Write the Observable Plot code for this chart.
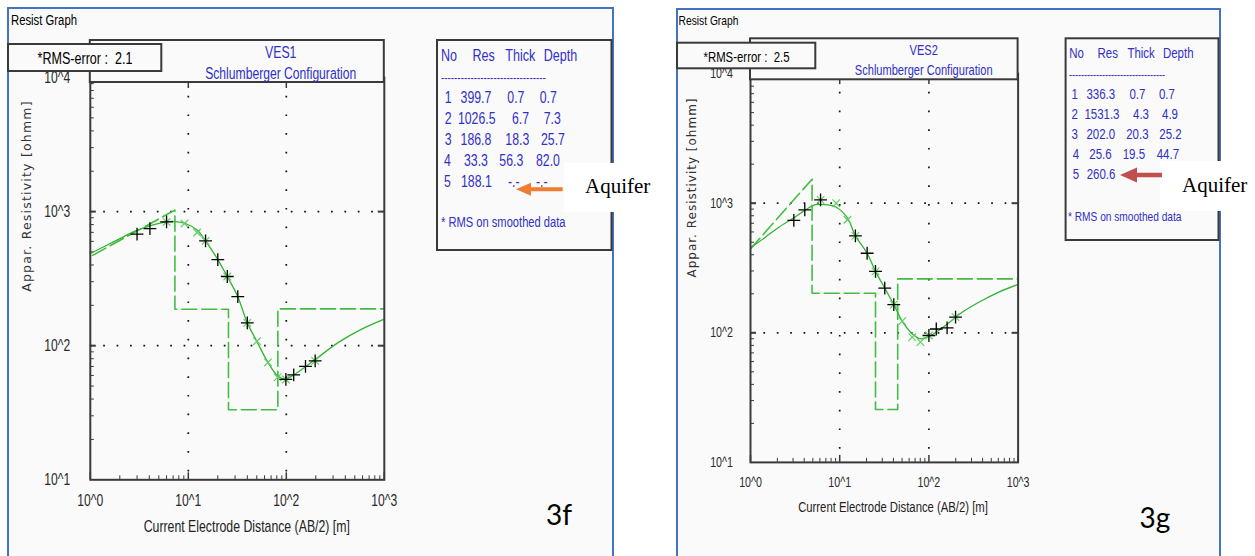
<!DOCTYPE html>
<html><head><meta charset="utf-8">
<script src="https://cdn.jsdelivr.net/npm/d3@7"></script>
<script src="https://cdn.jsdelivr.net/npm/@observablehq/plot@0.6"></script>
<style>
html,body{margin:0;padding:0;background:#fff;}
#root{position:relative;width:1255px;height:556px;overflow:hidden;background:#fff;}
#root > svg{position:absolute;top:0;}
</style></head>
<body><div id="root"></div>
<script>
// ---------------- data ----------------
const chartTitles = ["VES1", "VES2"];
const configLabel = "Schlumberger Configuration";
const windowTitle = "Resist Graph";
const figLabels = ["3f", "3g"];
const rmsValues = ["2.1", "2.5"];
const tableHeader = ["No", "Res", "Thick", "Depth"];
const tableNote = "* RMS on smoothed data";
const yAxisTitle = "Appar. Resistivity [ohmm]";
const xAxisTitle = "Current Electrode Distance (AB/2) [m]";
const aquiferLabel = "Aquifer";
const xTicks = [1, 10, 100, 1000];
const xTickLabels = ["10^0", "10^1", "10^2", "10^3"];
const yTicks = [10, 100, 1000, 10000];
const yTickLabels = ["10^1", "10^2", "10^3", "10^4"];
const gridX = [10, 100];
const gridY = [100, 1000];

// VES1
const ves1Res = [399.7, 1026.5, 186.8, 33.3, 188.1];
const ves1Thick = [0.7, 6.7, 18.3, 56.3];
const ves1Depth = [0.7, 7.3, 25.7, 82.0];
const ves1ObsAB = [3.0, 4.06, 6.0, 15, 20, 25, 32, 40, 99, 119, 157, 197];
const ves1ObsRho = [679, 747, 838, 605, 439, 328, 232, 148, 56, 60.5, 70, 77];
const ves1SmoothAB = [6.0, 9.15, 12.3, 15, 25, 40, 50.2, 65, 81.4, 99, 197];
const ves1SmoothRho = [838, 815, 698, 605, 328, 148, 108, 75, 58, 56, 77];
const ves1CurveAB = [1.0, 1.44, 1.96, 2.9, 4.29, 6.1, 7.4, 9.36, 12.3, 15, 20, 25, 32, 40, 50, 65, 81.4, 97.5, 123, 197, 340, 588, 1000];
const ves1CurveRho = [487, 556, 623, 718, 793, 843, 843, 815, 728, 605, 439, 328, 232, 148, 108, 75, 59.8, 56.5, 61.5, 78.8, 105.8, 133, 158];

// VES2
const ves2Res = [336.3, 1531.3, 202.0, 25.6, 260.6];
const ves2Thick = [0.7, 4.3, 20.3, 19.5];
const ves2Depth = [0.7, 4.9, 25.2, 44.7];
const ves2ObsAB = [3.06, 4.06, 6.1, 15, 20.3, 25.2, 32, 40.4, 100, 121, 160, 199];
const ves2ObsRho = [736, 889, 1062, 560, 411, 298, 221, 165, 95.3, 107, 109, 132];
const ves2SmoothAB = [6.1, 9.14, 12.2, 15, 25.2, 40.4, 50.2, 65, 80.5, 100, 199];
const ves2SmoothRho = [1062, 1000, 745, 560, 298, 165, 123, 92.5, 84.7, 95.3, 132];
const ves2CurveAB = [1.0, 1.47, 2.08, 3.06, 4.06, 5.35, 6.93, 9.14, 12.2, 15, 20.3, 25.2, 32, 40.4, 50.2, 65, 80.5, 100, 153, 236, 363, 608, 1000];
const ves2CurveRho = [453, 547, 653, 771, 880, 973, 975, 931, 771, 560, 411, 298, 221, 165, 123, 98.3, 89.9, 93.6, 114, 144, 172, 206, 236];

// ---------------- styles / layout ----------------
const SANS = '"Liberation Sans",Arial,sans-serif';
const BOOST = 1.09;            // taller glyphs ...
const CONDENSE = 0.82 / BOOST; // ... at the same width (narrow typeface look)
const WIDE = '"DejaVu Sans",sans-serif';
const SERIF = '"Liberation Serif","Times New Roman",serif';
const FIGFONT = 'Lato,"Open Sans",sans-serif';
const BLUE_TXT = "#3030c8";
const PANEL_BG = "#fafafa";
const BORDER_BLUE = "#4472C4";
const DARK = "#3a3a3a";
const CURVE_GREEN = "#33b533";
const DASH_GREEN = "#44bb44";
const X_GREEN = "#66cc66";
const H = 556;

const layouts = [
  {
    panel: {x1: 8, y1: 8, x2: 613},
    svgLeft: 0, svgW: 620, fx0: 89.8, fx1: 383.8, fy0: 77.0, fy1: 479.3,
    tickFont: 14.8, xPad: 15.0, yPad: 20,
    title: {x: 11, y: 20, size: 13.8},
    rmsBox: [8, 44, 161.3, 71], rms: {x: 85, y: 58.5, size: 15.3},
    header: [89.8, 40, 383.8, 82], ves: {x: 280.7, y: 52, size: 15}, cfg: {y: 73, size: 14.8},
    table: [437, 40, 611.5, 250],
    thead: {y: 55, size: 15.3, xs: [440.9, 472.5, 505.3, 543.7]},
    dash: {x: 441, y: 77, size: 12, n: 32},
    rows: {ys: [97.3, 118.3, 139.3, 160.5, 181.5], size: 15,
      xs: [[444.8, 460.6, 507.3, 539.7], [444.8, 457.9, 512, 543.7], [444.8, 460.6, 505.3, 541], [444, 464, 499.3, 536], [444, 461, 508, 536]]},
    note: {x: 441, y: 222, size: 13.6},
    ylab: {x: 26.5, y: 196, size: 12.5, ls: 1.2},
    xlab: {x: 246.8, y: 526.5, size: 15},
    fig: {x: 559, y: 514, size: 28},
    aqBox: [564, 163, 662, 212], aqText: {x: 585, y: 193, size: 21},
    arrow: {x1: 562.7, x2: 516, y: 189.3, color: "#ED7D31", shaft: 4, headL: 15, headW: 13}
  },
  {
    panel: {x1: 677, y1: 9, x2: 1220},
    svgLeft: 640, svgW: 615, fx0: 750, fx1: 1017.6, fy0: 73.1, fy1: 461.9,
    tickFont: 13, xPad: 14.6, yPad: 17.6,
    title: {x: 678.6, y: 20, size: 12.5},
    rmsBox: [677, 42.7, 815.3, 68.3], rms: {x: 746.5, y: 57, size: 13.9},
    header: [750, 38.3, 1017.6, 79.3], ves: {x: 923.7, y: 50, size: 13.5}, cfg: {y: 70, size: 13.5},
    table: [1065.6, 38.3, 1218.5, 240],
    thead: {y: 53.3, size: 14, xs: [1069.2, 1097.5, 1127.4, 1162.9]},
    dash: {x: 1069, y: 74.3, size: 11, n: 32},
    rows: {ys: [94.3, 114.3, 134.3, 154.3, 174.3], size: 14,
      xs: [[1071.6, 1086.4, 1129.4, 1158.9], [1071.6, 1084.4, 1133, 1162], [1071.6, 1086.4, 1126.2, 1159.3], [1072.7, 1089.3, 1122.7, 1156.7], [1072.7, 1086.7, 1127, 1157]]},
    note: {x: 1068, y: 216, size: 12.4},
    ylab: {x: 691.8, y: 187.5, size: 12, ls: 1},
    xlab: {x: 893, y: 506.7, size: 13.8},
    fig: {x: 1155, y: 517, size: 28},
    aqBox: [1160, 161, 1255, 211], aqText: {x: 1182, y: 191.7, size: 21},
    arrow: {x1: 1162, x2: 1120, y: 175, color: "#C0504D", shaft: 4.5, headL: 17, headW: 15}
  }
];

const datasets = [
  {res: ves1Res, thick: ves1Thick, depth: ves1Depth, obsX: ves1ObsAB, obsY: ves1ObsRho, smX: ves1SmoothAB, smY: ves1SmoothRho, cvX: ves1CurveAB, cvY: ves1CurveRho},
  {res: ves2Res, thick: ves2Thick, depth: ves2Depth, obsX: ves2ObsAB, obsY: ves2ObsRho, smX: ves2SmoothAB, smY: ves2SmoothRho, cvX: ves2CurveAB, cvY: ves2CurveRho}
];

const xDomain = [xTicks[0], xTicks[xTicks.length - 1]];
const yDomain = [yTicks[0], yTicks[yTicks.length - 1]];
const minorMult = [2, 3, 4, 5, 6, 7, 8, 9];
const minorX = xTicks.slice(0, -1).flatMap(d => minorMult.map(m => d * m));
const minorY = yTicks.slice(0, -1).flatMap(d => minorMult.map(m => d * m));

function zip(xs, ys) { return xs.map((x, i) => ({x, y: ys[i]})); }
function layerModel(res, depth) {
  const pts = [{x: depth[0], y: res[0]}, {x: depth[1], y: res[1]}];
  for (let i = 1; i < depth.length; i++) {
    pts.push({x: depth[i], y: res[i + 1]});
    if (i + 1 < depth.length) pts.push({x: depth[i + 1], y: res[i + 1]});
  }
  pts.push({x: xDomain[1], y: res[res.length - 1]});
  return pts;
}

const root = d3.select("#root");

// underlay: panel backgrounds and blue window borders
const under = root.append("svg").attr("width", 1255).attr("height", H).style("left", "0px");
layouts.forEach(L => {
  const p = L.panel;
  under.append("rect").attr("x", p.x1).attr("y", p.y1).attr("width", p.x2 - p.x1).attr("height", H + 10 - p.y1).attr("fill", PANEL_BG);
  under.append("path").attr("d", `M${p.x1},${H + 10}V${p.y1}H${p.x2}V${H + 10}`).attr("fill", "none").attr("stroke", BORDER_BLUE).attr("stroke-width", 2);
});

// charts
layouts.forEach((L, k) => {
  const D = datasets[k];
  const fmtX = d => xTickLabels[xTicks.indexOf(d)];
  const fmtY = d => yTickLabels[yTicks.indexOf(d)];
  const chart = Plot.plot({
    width: L.svgW, height: H,
    marginLeft: L.fx0 - L.svgLeft, marginRight: L.svgLeft + L.svgW - L.fx1,
    marginTop: L.fy0, marginBottom: H - L.fy1,
    x: {type: "log", domain: xDomain, label: null},
    y: {type: "log", domain: yDomain, label: null},
    style: {background: "transparent", overflow: "visible", fontFamily: SANS, fontSize: (L.tickFont * BOOST) + "px", color: "#2a2a2a"},
    marks: [
      Plot.ruleY(gridY, {stroke: "#111", strokeWidth: 1.7, strokeDasharray: "1.7,11.7"}),
      Plot.ruleX(gridX, {stroke: "#111", strokeWidth: 1.7, strokeDasharray: "1.7,17"}),
      Plot.axisX(minorX, {anchor: "bottom", tickSize: 4, dy: -4, fill: "none", stroke: DARK}),
      Plot.axisY(minorY, {anchor: "left", tickSize: 4, dx: 4, fill: "none", stroke: DARK}),
      Plot.axisX(xTicks, {anchor: "bottom", tickSize: 7, dy: -7, fill: "none", stroke: DARK, strokeWidth: 1.5}),
      Plot.axisX(gridX, {anchor: "top", tickSize: 10, dy: 10, fill: "none", stroke: DARK, strokeWidth: 1.5}),
      Plot.axisY(gridY, {anchor: "left", tickSize: 6, dx: 6, fill: "none", stroke: DARK, strokeWidth: 2}),
      Plot.axisY(gridY, {anchor: "right", tickSize: 7, dx: -7, fill: "none", stroke: DARK, strokeWidth: 2}),
      Plot.axisX(xTicks, {anchor: "bottom", tickSize: 0, tickPadding: L.xPad, tickFormat: fmtX, fill: "#2a2a2a"}),
      Plot.axisY(yTicks, {anchor: "left", tickSize: 0, tickPadding: L.yPad, tickFormat: fmtY, fill: "#2a2a2a"}),
      Plot.line(layerModel(D.res, D.depth), {x: "x", y: "y", stroke: DASH_GREEN, strokeWidth: 1.6, strokeDasharray: "15,5", clip: true}),
      Plot.line(zip(D.cvX, D.cvY), {x: "x", y: "y", stroke: CURVE_GREEN, strokeWidth: 1.3, curve: "catmull-rom", clip: true}),
      Plot.dot(zip(D.smX, D.smY), {x: "x", y: "y", symbol: "times", r: 3.5, stroke: X_GREEN, strokeWidth: 1.2}),
      Plot.dot(zip(D.obsX, D.obsY), {x: "x", y: "y", symbol: "plus", r: 4.2, stroke: "#000", strokeWidth: 1.3}),
      Plot.frame({stroke: DARK, strokeWidth: 2})
    ]
  });
  // condense the tick labels (narrow typeface look)
  d3.select(chart).selectAll("text").each(function () {
    const t = this.getAttribute("transform") || "";
    this.setAttribute("transform", t + ` scale(${CONDENSE},1)`);
  });
  d3.select(chart).style("left", L.svgLeft + "px").style("position", "absolute").style("top", "0px");
  root.node().appendChild(chart);
});

// overlay: boxes, text, annotations
const over = root.append("svg").attr("width", 1255).attr("height", H).style("left", "0px");
function T(x, y, s, o) {
  const narrow = !o.family;
  const t = over.append("text")
    .attr("font-size", narrow ? o.size * BOOST : o.size).attr("fill", o.fill || "#000")
    .attr("font-family", o.family || SANS)
    .attr("text-anchor", o.anchor || "start")
    .attr("dominant-baseline", o.baseline || "central")
    .style("white-space", "pre").text(s);
  let tr = `translate(${x},${y})`;
  if (o.rotate) tr += ` rotate(${o.rotate})`;
  if (narrow) tr += ` scale(${CONDENSE},1)`;
  t.attr("transform", tr);
  if (o.ls) t.attr("letter-spacing", o.ls);
  return t;
}
function box(b, o = {}) {
  over.append("rect").attr("x", b[0]).attr("y", b[1]).attr("width", b[2] - b[0]).attr("height", b[3] - b[1])
    .attr("fill", o.fill || PANEL_BG).attr("stroke", o.stroke || DARK).attr("stroke-width", o.sw == null ? 2 : o.sw);
}
const fmt1 = v => v.toFixed(1);

layouts.forEach((L, k) => {
  const D = datasets[k];
  T(L.title.x, L.title.y, windowTitle, {size: L.title.size});
  box(L.header);
  T(L.ves.x, L.ves.y, chartTitles[k], {size: L.ves.size, anchor: "middle", fill: BLUE_TXT});
  T(L.ves.x, L.cfg.y, configLabel, {size: L.cfg.size, anchor: "middle", fill: BLUE_TXT});
  box(L.rmsBox);
  T(L.rms.x, L.rms.y, "*RMS-error :  " + rmsValues[k], {size: L.rms.size, anchor: "middle"});
  box(L.table);
  tableHeader.forEach((h, i) => T(L.thead.xs[i], L.thead.y, h, {size: L.thead.size, fill: BLUE_TXT}));
  T(L.dash.x, L.dash.y, "-".repeat(L.dash.n), {size: L.dash.size, fill: BLUE_TXT});
  D.res.forEach((r, i) => {
    const cells = [String(i + 1), fmt1(r),
      i < D.thick.length ? fmt1(D.thick[i]) : "-.-",
      i < D.depth.length ? fmt1(D.depth[i]) : "-.-"];
    cells.forEach((c, j) => T(L.rows.xs[i][j], L.rows.ys[i], c, {size: L.rows.size, fill: BLUE_TXT}));
  });
  T(L.note.x, L.note.y, tableNote, {size: L.note.size, fill: BLUE_TXT});
  T(L.ylab.x, L.ylab.y, yAxisTitle, {size: L.ylab.size, family: WIDE, anchor: "middle", fill: "#333", ls: L.ylab.ls, rotate: -90});
  T(L.xlab.x, L.xlab.y, xAxisTitle, {size: L.xlab.size, anchor: "middle", fill: "#222"});
  T(L.fig.x, L.fig.y, figLabels[k], {size: L.fig.size, family: FIGFONT, anchor: "middle"});
  // aquifer annotation
  over.append("rect").attr("x", L.aqBox[0]).attr("y", L.aqBox[1]).attr("width", L.aqBox[2] - L.aqBox[0]).attr("height", L.aqBox[3] - L.aqBox[1]).attr("fill", "#fff");
  const a = L.arrow, hs = a.shaft / 2, hw = a.headW / 2, hb = a.x2 + a.headL;
  over.append("path").attr("d", `M${a.x2},${a.y}L${hb},${a.y - hw}L${hb},${a.y - hs}L${a.x1},${a.y - hs}L${a.x1},${a.y + hs}L${hb},${a.y + hs}L${hb},${a.y + hw}Z`).attr("fill", a.color);
  T(L.aqText.x, L.aqText.y, aquiferLabel, {size: L.aqText.size, family: SERIF, baseline: "alphabetic"});
});
</script>
</body></html>
